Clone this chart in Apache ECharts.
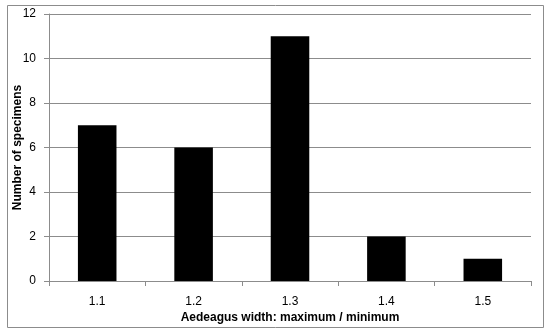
<!DOCTYPE html>
<html>
<head>
<meta charset="utf-8">
<script src="https://cdn.jsdelivr.net/npm/echarts@6/dist/echarts.min.js"></script>
<style>
  html, body { margin: 0; padding: 0; background: #fff; }
  #chart { width: 550px; height: 335px; }
</style>
</head>
<body>
<div id="chart"></div>
<script>
const categories = ['1.1', '1.2', '1.3', '1.4', '1.5']
const counts = [7, 6, 11, 2, 1]

const chart = echarts.init(document.getElementById('chart'))
const font = 'Liberation Sans, Arial, sans-serif'

chart.setOption({
  animation: false,
  graphic: [{
    type: 'rect',
    shape: { x: 7.5, y: 5.5, width: 536, height: 322 },
    style: { fill: 'none', stroke: '#8c8c8c', lineWidth: 1 },
    silent: true
  }],
  grid: {
    left: 49,
    right: 19,
    top: 14,
    bottom: 54,
    outerBoundsMode: 'none'
  },
  xAxis: {
    type: 'category',
    data: categories,
    name: 'Aedeagus width: maximum / minimum',
    nameLocation: 'middle',
    nameGap: 31,
    nameMoveOverlap: false,
    nameTextStyle: { fontFamily: font, fontSize: 12, fontWeight: 'bold', color: '#000' },
    axisLine: { lineStyle: { color: '#8c8c8c' } },
    axisTick: { show: true, length: 5, lineStyle: { color: '#8c8c8c' } },
    axisLabel: { fontFamily: font, fontSize: 12, color: '#000', margin: 15 }
  },
  yAxis: {
    type: 'value',
    min: 0,
    max: 12,
    interval: 2,
    name: 'Number of specimens',
    nameLocation: 'middle',
    nameGap: 25,
    nameMoveOverlap: false,
    nameTextStyle: { fontFamily: font, fontSize: 12, fontWeight: 'bold', color: '#000' },
    axisLine: { show: true, lineStyle: { color: '#8c8c8c' } },
    axisTick: { show: true, length: 5, lineStyle: { color: '#8c8c8c' } },
    axisLabel: { fontFamily: font, fontSize: 12, color: '#000', margin: 13 },
    splitLine: { lineStyle: { color: '#8c8c8c' } }
  },
  series: [{
    type: 'bar',
    data: counts,
    barWidth: '40%',
    itemStyle: { color: '#000' }
  }]
})
</script>
</body>
</html>
